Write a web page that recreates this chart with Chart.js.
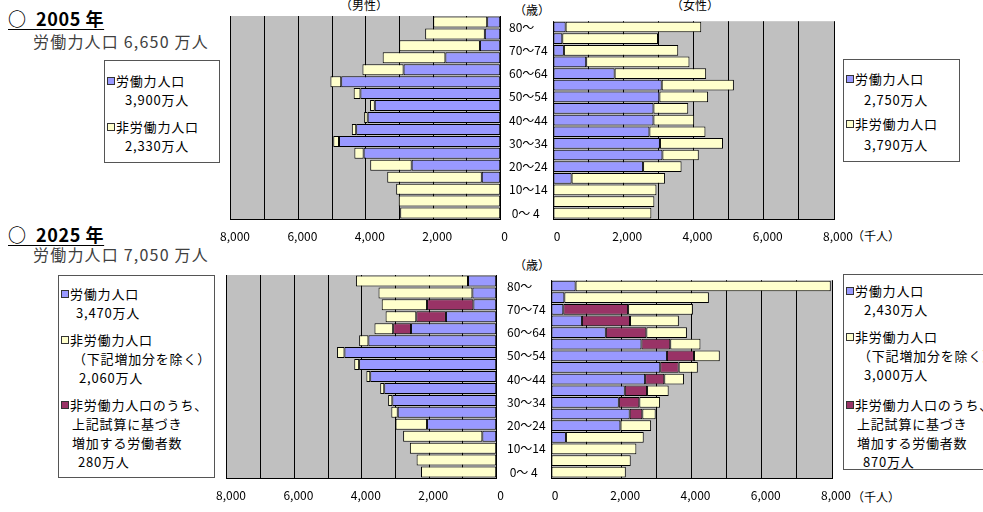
<!DOCTYPE html>
<html>
<head>
<meta charset="utf-8">
<script src="https://cdn.jsdelivr.net/npm/chart.js@4.4.1/dist/chart.umd.min.js"></script>
<style>
body { margin: 0; width: 983px; height: 512px; overflow: hidden; background: #fff; position: relative;
       font-family: "Noto Sans CJK JP", sans-serif; color: #000; }
.abs { position: absolute; white-space: nowrap; }
canvas { position: absolute; }
.title { left: 8px; font-size: 18px; font-weight: bold; line-height: 22px; letter-spacing: 0.6px; text-decoration: underline; text-underline-offset: 3px; }
.sub { left: 33px; font-size: 16px; line-height: 22px; color: #404040; letter-spacing: 1.2px; }
.hd { font-size: 12px; line-height: 14px; }
.leg { position: absolute; box-sizing: border-box; border: 1px solid #555; background: #fff; font-size: 13px; overflow: hidden; white-space: nowrap; }
.leg .ln { height: 19px; line-height: 19px; letter-spacing: 0.8px; }
.leg .g { margin-top: 8px; }
.sw { display: inline-block; width: 6px; height: 6px; border: 1px solid #333; margin: 0 1px 0 0; vertical-align: 1px; }
</style>
</head>
<body>

<div class="abs title" style="top:7px">○&nbsp;&nbsp;2005 年</div>
<div class="abs sub" style="top:30px">労働力人口 6,650 万人</div>
<div class="abs title" style="top:223px">○&nbsp;&nbsp;2025 年</div>
<div class="abs sub" style="top:243px">労働力人口 7,050 万人</div>

<div class="abs hd" style="left:340px;top:-2px">（男性）</div>
<div class="abs hd" style="left:671px;top:-2px">（女性）</div>
<div class="abs hd" style="left:514px;top:3px">（歳）</div>
<div class="abs hd" style="left:514px;top:258px">（歳）</div>
<div class="abs hd" style="left:852px;top:229px">（千人）</div>
<div class="abs hd" style="left:852px;top:490px">（千人）</div>

<div class="leg" style="left:104px;top:60px;width:116px;height:103px;padding:10px 0 0 2px">
  <div class="ln"><span class="sw" style="background:#9999FF"></span>労働力人口</div>
  <div class="ln" style="padding-left:18px">3,900万人</div>
  <div class="ln g"><span class="sw" style="background:#FFFFCC"></span>非労働力人口</div>
  <div class="ln" style="padding-left:18px">2,330万人</div>
</div>

<div class="leg" style="left:843px;top:59px;width:117px;height:103px;padding:8px 0 0 2px">
  <div class="ln" style="height:21px;line-height:21px"><span class="sw" style="background:#9999FF"></span>労働力人口</div>
  <div class="ln" style="padding-left:18px;height:21px;line-height:21px">2,750万人</div>
  <div class="ln" style="margin-top:3px;height:21px;line-height:21px"><span class="sw" style="background:#FFFFCC"></span>非労働力人口</div>
  <div class="ln" style="padding-left:18px;height:21px;line-height:21px">3,790万人</div>
</div>

<div class="leg" style="left:58px;top:275px;width:157px;height:203px;padding:8px 0 0 2px">
  <div class="ln"><span class="sw" style="background:#9999FF"></span>労働力人口</div>
  <div class="ln" style="padding-left:15px">3,470万人</div>
  <div class="ln g"><span class="sw" style="background:#FFFFCC"></span>非労働力人口</div>
  <div class="ln" style="padding-left:12px">（下記増加分を除く）</div>
  <div class="ln" style="padding-left:18px">2,060万人</div>
  <div class="ln g"><span class="sw" style="background:#993366"></span>非労働力人口のうち、</div>
  <div class="ln" style="padding-left:11px">上記試算に基づき</div>
  <div class="ln" style="padding-left:11px">増加する労働者数</div>
  <div class="ln" style="padding-left:17px">280万人</div>
</div>

<div class="leg" style="left:843px;top:274px;width:160px;height:196px;padding:6px 0 0 2px">
  <div class="ln"><span class="sw" style="background:#9999FF"></span>労働力人口</div>
  <div class="ln" style="padding-left:18px">2,430万人</div>
  <div class="ln g"><span class="sw" style="background:#FFFFCC"></span>非労働力人口</div>
  <div class="ln" style="padding-left:12px">（下記増加分を除く）</div>
  <div class="ln" style="padding-left:18px">3,000万人</div>
  <div class="ln" style="margin-top:11px"><span class="sw" style="background:#993366"></span>非労働力人口のうち、</div>
  <div class="ln" style="padding-left:11px">上記試算に基づき</div>
  <div class="ln" style="padding-left:11px">増加する労働者数</div>
  <div class="ln" style="padding-left:17px">870万人</div>
</div>

<canvas id="m2005"></canvas>
<canvas id="f2005"></canvas>
<canvas id="m2025"></canvas>
<canvas id="f2025"></canvas>

<script>
// age groups, top (80~) to bottom (0-4)
const ages = ['80～', '75～79', '70～74', '65～69', '60～64', '55～59', '50～54', '45～49', '40～44',
              '35～39', '30～34', '25～29', '20～24', '15～19', '10～14', ' 5～ 9', ' 0～ 4'];
const xTicks = [0, 2000, 4000, 6000, 8000];

// 2005 (thousand persons)
const male2005Labor  = [400, 470, 615, 1640, 2880, 4730, 4160, 3735, 3945, 4285, 4795, 4065, 2640, 560, null, null, null];
const male2005Other  = [1600, 1770, 2395, 1860, 1220, 320, 200, 140, 105, 130, 170, 275, 1230, 2805, 3100, 3025, 2980];
const fem2005Labor   = [360, 265, 310, 945, 1755, 3095, 3030, 2860, 2860, 2745, 3045, 3115, 2565, 530, null, null, null];
const fem2005Other   = [3860, 2725, 3255, 2940, 2605, 2055, 1385, 990, 1160, 1595, 1795, 1035, 1095, 2660, 2945, 2885, 2800];

// 2025
const male2025Labor  = [850, 720, 690, 1505, 2540, 3805, 4515, 4080, 3750, 3335, 3095, 2935, 2065, 425, null, null, null];
const male2025Added  = [null, null, 1375, 880, 530, null, null, null, null, null, null, null, null, null, null, null, null];
const male2025Other  = [3325, 2785, 1345, 910, 555, 275, 220, 145, 115, 120, 125, 190, 935, 2350, 2575, 2375, 2245];
const fem2025Labor   = [700, 380, 350, 880, 1560, 2575, 3300, 3110, 2680, 2100, 1930, 2240, 1975, 425, null, null, null];
const fem2025Added   = [null, null, 1845, 1370, 1155, 820, 770, 525, 545, 635, 585, 360, null, null, null, null, null];
const fem2025Other   = [7265, 4115, 1845, 1390, 1155, 860, 735, 545, 560, 615, 590, 380, 875, 2215, 2430, 2270, 2130];

const BLUE = '#9999FF', YELLOW = '#FFFFCC', RED = '#993366';
const PLOT_W = 282, PLOT_H = 203, AXIS_H = 34;

Chart.defaults.font.family = '"Noto Sans CJK JP", sans-serif';
Chart.defaults.color = '#000';

// grey plot area like the Excel original
const plotBg = {
    id: 'plotBg',
    beforeDraw(chart) {
        const a = chart.chartArea;
        const ctx = chart.ctx;
        ctx.save();
        ctx.fillStyle = '#C0C0C0';
        ctx.fillRect(a.left, a.top, a.right - a.left, a.bottom - a.top);
        ctx.restore();
    }
};

function bars(labor, added, other) {
    const ds = [{ label: '労働力人口', data: labor, backgroundColor: BLUE }];
    if (added) ds.push({ label: '増加する労働者数', data: added, backgroundColor: RED });
    ds.push({ label: '非労働力人口', data: other, backgroundColor: YELLOW });
    return ds.map(d => Object.assign(d, {
        borderColor: '#000', borderWidth: 1, borderSkipped: false,
        barPercentage: 0.92, categoryPercentage: 1
    }));
}

function pyramid(id, left, top, datasets, female) {
    const cv = document.getElementById(id);
    const padL = female ? 2 : 20, padR = female ? 24 : 6, axisW = female ? 44 : 0;
    cv.width = padL + axisW + PLOT_W + padR;
    cv.height = 2 + PLOT_H + AXIS_H;
    cv.style.left = (left - padL - axisW) + 'px';
    cv.style.top = (top - 2) + 'px';

    return new Chart(cv, {
        type: 'bar',
        data: { labels: ages, datasets: datasets },
        options: {
            indexAxis: 'y',
            responsive: false,
            animation: false,
            layout: { padding: { left: padL, right: padR, top: 2, bottom: 0 } },
            plugins: { legend: { display: false }, tooltip: { enabled: false } },
            scales: {
                x: {
                    stacked: true,
                    reverse: !female,
                    min: 0,
                    max: 8000,
                    ticks: {
                        stepSize: 1000, autoSkip: false, maxRotation: 0,
                        padding: 10, labelOffset: 4, color: '#000',
                        font: { size: 12, lineHeight: '14px' },
                        callback: v => xTicks.includes(v) ? v.toLocaleString('en-US') : ''
                    },
                    grid: { color: '#000', lineWidth: 1, drawTicks: false },
                    border: { color: '#000' },
                    afterFit: s => { s.height = AXIS_H; }
                },
                y: {
                    stacked: true,
                    display: female,
                    position: 'left',
                    grid: { display: false },
                    border: { display: false },
                    ticks: {
                        crossAlign: 'far', padding: 0, autoSkip: false, color: '#000',
                        font: { size: 12 },
                        callback: function (v, i) { return i % 2 === 0 ? this.getLabelForValue(v) : ''; }
                    },
                    afterFit: s => { s.width = axisW; }
                }
            }
        },
        plugins: [plotBg]
    });
}

pyramid('m2005', 226, 16, bars(male2005Labor, null, male2005Other), false);
pyramid('f2005', 553, 16, bars(fem2005Labor, null, fem2005Other), true);
pyramid('m2025', 222, 275, bars(male2025Labor, male2025Added, male2025Other), false);
pyramid('f2025', 551, 275, bars(fem2025Labor, fem2025Added, fem2025Other), true);
</script>
</body>
</html>
